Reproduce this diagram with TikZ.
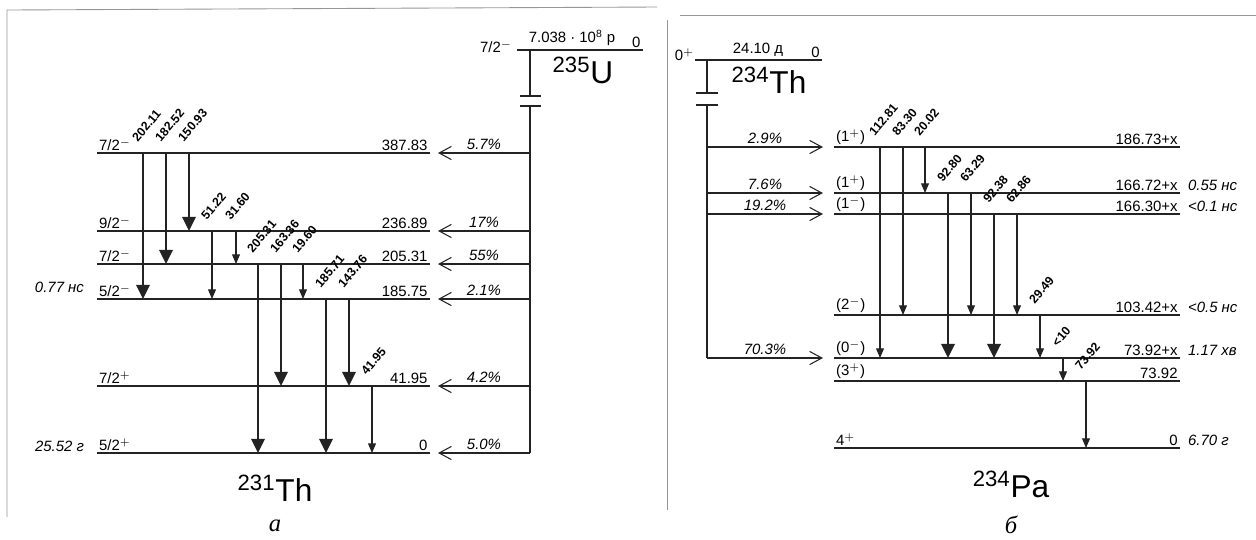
\documentclass[tikz,border=0pt]{standalone}
\usepackage{fontspec}
\setmainfont{Liberation Sans}
\newfontfamily\capfont{Liberation Serif}
\usepackage{tikz}
\usetikzlibrary{arrows.meta, positioning}
\definecolor{InkDark}{RGB}{35,35,35}
\definecolor{ScanGrey}{RGB}{150,150,150}

\begin{document}
\begin{tikzpicture}[x=0.02cm, y=-0.02cm,
    frame/.style={draw=ScanGrey, line width=0.5pt},
    lvl/.style={draw=InkDark, line width=0.8pt},
    trunk/.style={draw=InkDark, line width=0.6pt},
    feed/.style={draw=InkDark, line width=0.6pt, -{Straight Barb[length=7pt, width=7.5pt]}},
    gbig/.style={draw=InkDark, line width=1.6pt, -{Triangle[length=8pt, width=7.5pt]}},
    gsmall/.style={draw=InkDark, line width=0.6pt, -{Triangle[length=5.5pt, width=4.5pt]}},
    glab/.style={font=\bfseries\fontsize{7}{8}\selectfont, rotate=50, anchor=south west, inner sep=0pt},
    elab/.style={font=\fontsize{8.5}{10}\selectfont, anchor=south east, inner sep=1pt},
    spin/.style={font=\fontsize{8.5}{10}\selectfont, anchor=south west, inner sep=1pt},
    tlab/.style={font=\itshape\fontsize{8.5}{10}\selectfont, inner sep=1pt},
    pct/.style={font=\itshape\fontsize{8.5}{10}\selectfont, anchor=south, inner sep=1.5pt},
    nuc/.style={font=\fontsize{18}{20}\selectfont, inner sep=0pt},
    fig/.style={font=\capfont\itshape\fontsize{14}{16}\selectfont, inner sep=0pt}
]
\useasboundingbox (0,0) rectangle (1256,539);

% page frame of the scan
\draw[frame] (7,517) -- (7,10) -- (657,7);
\draw[frame] (667,20) -- (667,510);
\draw[frame] (680,15) -- (1256,15);

% 235U -> 231Th
\coordinate (U235) at (517,50);
\draw[lvl] (U235) -- ++(126,0) node[elab] (eU235) {0};
\node[spin, anchor=east] (sU235) at (514,47) {7/2$^-$};
\node[elab, anchor=south] (tU235) at (572,48) {7.038 · 10\textsuperscript{8} р};
\node[nuc] (nU235) at (583,70) {\textsuperscript{235}U};

\coordinate (trA) at (530,50);
\draw[trunk] (trA) -- ++(0,46);
\draw[trunk] (520,96) -- (541,96);
\draw[trunk] (520,106) -- (541,106);
\draw[trunk] (530,106) -- (530,453);

\foreach \name/\y/\spin/\en/\pc in {a387/153/{7/2$^-$}/387.83/5.7, a236/231/{9/2$^-$}/236.89/17,
    a205/264/{7/2$^-$}/205.31/55, a185/299/{5/2$^-$}/185.75/2.1, a41/386/{7/2$^+$}/41.95/4.2,
    a0/453/{5/2$^+$}/0/5.0}{
  \coordinate (\name) at (97,\y);
  \draw[lvl] (\name) -- ++(333,0) node[elab] (e\name) {\en};
  \node[spin] (s\name) at (\name) {\spin};
  \draw[feed] (trA |- \name) -- node[pct] (p\name) {\pc\%} (438,\y);
}
\node[tlab, anchor=east] (ta185) at (86,287) {0.77 нс};
\node[tlab, anchor=east] (ta0) at (86,446) {25.52 г};

\foreach \x/\top/\bot/\lab/\kind in {143/a387/a185/202.11/gbig, 166/a387/a205/182.52/gbig,
    189/a387/a236/150.93/gbig, 212/a236/a185/51.22/gsmall, 236/a236/a205/31.60/gsmall,
    258/a205/a0/205.31/gbig, 281/a205/a41/163.36/gbig, 303/a205/a185/19.60/gsmall,
    326/a185/a0/185.71/gbig, 349/a185/a41/143.76/gbig, 372/a41/a0/41.95/gsmall}{
  \draw[\kind] (\x,0 |- \top) -- (\x,0 |- \bot);
  \path (\x,0 |- \top) ++(-5,-10) node[glab] (g\x) {\lab};
}

\node[nuc] (Th231) at (275,488) {\textsuperscript{231}Th};
\node[fig, below=10pt of Th231] (capA) {а};

% 234Th -> 234Pa
\coordinate (Th234) at (695,60);
\draw[lvl] (Th234) -- ++(127,0) node[elab] (eTh234) {0};
\node[spin, anchor=east] (sTh234) at (696,55) {0$^+$};
\node[elab, anchor=south] (tTh234) at (758,59) {24.10 д};
\node[nuc] (nTh234) at (769,80) {\textsuperscript{234}Th};

\coordinate (trB) at (707,60);
\draw[trunk] (trB) -- ++(0,33);
\draw[trunk] (696,93) -- (718,93);
\draw[trunk] (696,105) -- (718,105);
\draw[trunk] (707,105) -- (707,358);

\foreach \name/\y/\spin/\en/\hl in {b186/147/{(1$^+$)}/186.73+x/{}, b166h/193/{(1$^+$)}/166.72+x/{0.55 нс},
    b166l/214/{(1$^-$)}/166.30+x/{<0.1 нс}, b103/315/{(2$^-$)}/103.42+x/{<0.5 нс},
    b73x/358/{(0$^-$)}/73.92+x/{1.17 хв}, b73/381/{(3$^+$)}/73.92/{}, b0/448/{4$^+$}/0/{6.70 г}}{
  \coordinate (\name) at (834,\y);
  \draw[lvl] (\name) -- ++(346,0) node[elab] (e\name) {\en};
  \node[tlab, anchor=south west] (t\name) at (1186,\y) {\hl};
  \node[spin] (s\name) at (\name) {\spin};
}

\foreach \name/\pc in {b186/2.9, b166h/7.6, b166l/19.2, b73x/70.3}
  \draw[feed] (trB |- \name) -- node[pct] (p\name) {\pc\%} (823,0 |- \name);

\foreach \x/\top/\bot/\lab/\kind in {880/b186/b73x/112.81/gsmall, 903/b186/b103/83.30/gsmall,
    925/b186/b166h/20.02/gsmall, 948/b166h/b73x/92.80/gbig, 971/b166h/b103/63.29/gsmall,
    994/b166l/b73x/92.38/gbig, 1017/b166l/b103/62.86/gsmall, 1040/b103/b73x/29.49/gsmall,
    1063/b73x/b73/<10/gsmall, 1086/b73/b0/73.92/gsmall}{
  \draw[\kind] (\x,0 |- \top) -- (\x,0 |- \bot);
  \path (\x,0 |- \top) ++(-5,-10) node[glab] (g\x) {\lab};
}

\node[nuc] (Pa234) at (1011,484) {\textsuperscript{234}Pa};
\node[fig, below=10pt of Pa234] (capB) {б};
\end{tikzpicture}
\end{document}
